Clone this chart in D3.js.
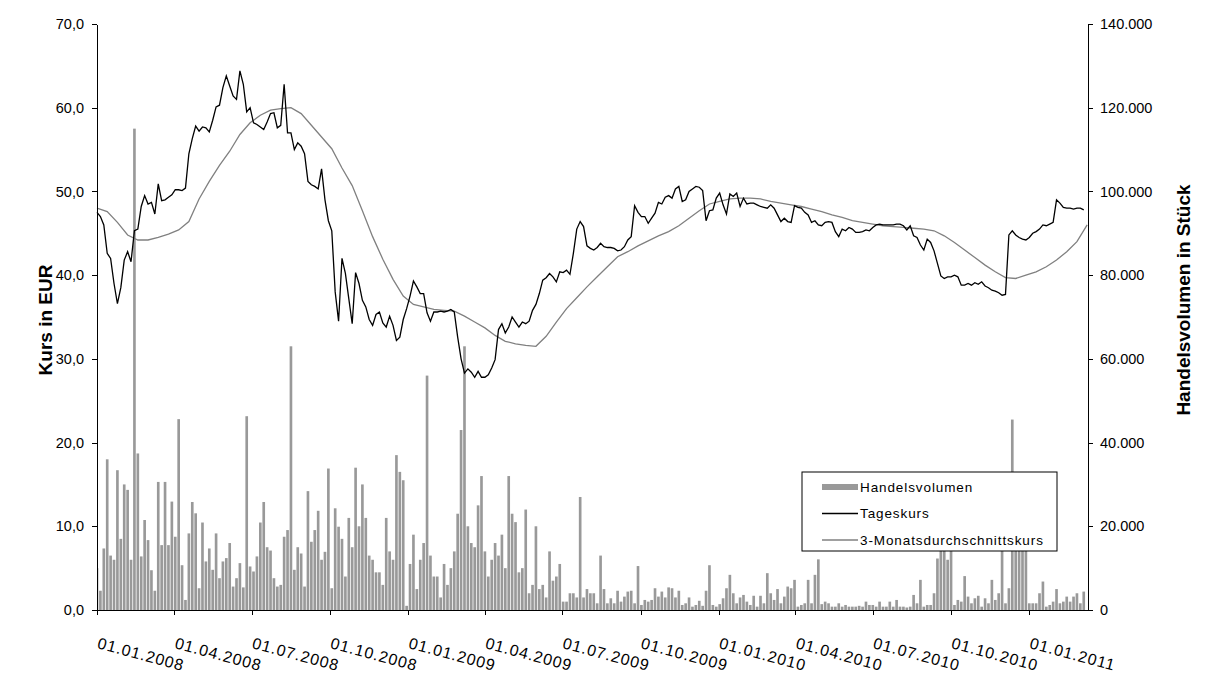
<!DOCTYPE html>
<html lang="de">
<head>
<meta charset="UTF-8">
<title>Tageskurs und Handelsvolumen</title>
<script src="https://cdn.jsdelivr.net/npm/d3@7/dist/d3.min.js"></script>
<style>
  body { margin: 0; background: #fff; font-family: "Liberation Sans", Arial, sans-serif; }
  .axis text { font-size: 14.5px; fill: #000; }
  .axis path, .axis line { stroke: #000; stroke-width: 1; shape-rendering: crispEdges; }
  .kurs { fill: none; stroke: #000; stroke-width: 1.3; }
  .schnitt { fill: none; stroke: #808080; stroke-width: 1.3; }
  .bar { fill: #999999; }
  .titel { font-size: 19px; font-weight: bold; }
  .legende text { font-size: 13.5px; letter-spacing: 0.9px; }
</style>
</head>
<body>
<div id="chart"></div>
<script>
// Datumsraster: ein Wert alle 4 Kalendertage ab 01.01.2008
var startDatum = "2008-01-01";
var endDatum = "2011-03-11";
var schrittTage = 4;
var schrittSchnittTage = 12;

// Tageskurs in EUR
var tageskurs = [
  47.5,47.0,46.0,42.6,42.0,39.0,36.6,38.5,41.8,42.8,
  41.6,45.3,45.5,48.2,49.5,48.5,48.7,47.3,50.9,48.9,
  49.0,49.3,49.6,50.2,50.2,50.1,50.4,54.5,56.3,57.8,
  57.2,57.7,57.6,57.1,58.5,60.1,60.3,62.4,63.8,62.6,
  61.4,61.0,64.4,62.8,59.5,60.0,58.2,58.0,57.7,57.4,
  58.3,59.3,59.4,57.6,57.9,62.8,57.0,57.0,55.0,55.8,
  55.4,54.5,51.2,50.8,50.6,50.3,52.7,49.0,46.5,45.3,
  38.0,34.5,42.0,40.2,37.2,34.2,40.3,39.0,37.0,36.2,
  34.7,34.0,35.3,35.6,34.3,33.8,35.1,34.0,32.2,32.6,
  34.7,36.0,37.5,39.3,38.6,37.8,37.8,35.5,34.5,35.6,
  35.6,35.7,35.6,35.7,35.9,35.6,32.6,30.0,28.3,28.8,
  28.4,27.8,28.5,27.8,27.8,28.1,28.9,29.9,33.5,34.2,
  33.1,33.8,35.0,34.4,33.8,34.4,34.2,34.5,35.8,36.5,
  37.8,39.4,39.7,40.2,39.8,39.2,40.4,40.3,40.6,40.1,
  42.6,45.5,46.4,45.8,43.5,43.2,43.0,43.3,43.8,43.4,
  43.3,43.3,43.2,42.9,43.0,43.4,44.2,44.6,48.3,47.5,
  47.0,47.0,46.2,46.8,47.4,48.7,48.5,49.3,49.5,49.2,
  50.3,50.6,48.8,49.0,50.0,50.3,50.6,50.5,50.1,46.5,
  47.7,47.8,49.2,49.8,48.4,47.3,49.7,49.4,49.8,48.2,
  49.2,48.5,48.6,48.6,48.4,48.2,48.1,48.0,48.4,48.0,
  47.2,46.4,46.8,46.4,46.3,48.3,48.1,48.0,47.5,47.2,
  46.3,46.5,46.0,45.9,46.3,46.4,46.3,45.2,44.6,45.5,
  45.3,45.7,45.5,45.1,45.1,45.2,45.4,45.3,45.7,46.0,
  46.1,46.0,46.0,46.0,46.0,46.1,46.1,45.9,45.4,45.9,
  44.7,44.5,43.6,43.0,44.3,43.9,42.9,41.4,39.9,39.6,
  39.8,39.8,40.0,39.8,38.8,38.8,39.0,38.8,39.1,38.9,
  39.2,38.7,38.5,38.2,38.1,37.9,37.6,37.7,44.8,45.3,
  44.8,44.5,44.3,44.2,44.5,45.0,45.2,45.5,46.0,45.9,
  46.1,46.3,49.0,48.6,48.1,48.0,48.0,47.9,48.0,48.0,
  47.8
];

// Handelsvolumen in Tsd. Stueck
var handelsvolumenTsd = [
  10,4.6,14.7,36,13,12,33.4,17,30,28.7,
  12,115,37.4,12.8,21.5,16.7,9.5,4.6,30.6,15.5,
  30.6,15.5,25.9,17.5,45.6,10.7,2.4,18.3,25.8,23.1,
  5.2,20.9,11.6,14.7,9.6,18.3,7.6,11.6,12.4,16,
  5.6,7.6,11.2,5.4,46.3,10.4,9.2,12.8,20.9,25.8,
  15,14.2,7.6,5.6,6,17.5,19.1,63,9.6,15,
  13.5,5.6,28.4,16.3,19.1,23.7,12,13.9,33.8,5.2,
  24.3,19.9,17,8,22,15,34,20,30,22,
  13,12,9,9,6,22,14,12,37,33,
  31,1,11,18,5,12,16,56,13,8,
  8,3,11,6,10,14,23,43,63,20,
  16,15,25,32,14,8,12,16,13,18,
  10,32,23,21,9,10,24,4,6,20,
  5,6,3,14,7,8,11,2,2,4,
  4,3,27,3,5,4,4,1.6,13,5,
  1.6,2.8,1.6,4.6,2,3.2,4.4,4.6,1.6,10.5,
  1.2,2.4,2,2.4,5.2,3.2,4.4,3,5.4,5.2,
  3,4.6,1.2,1.6,3,0.8,1.2,2.2,1,4.6,
  10.7,1.2,0.8,1.4,2.8,5.2,8.4,4,1.6,3,
  3.6,2,1.2,3.4,0.8,3.4,1.6,8.8,4,2.4,
  5,1.6,3.2,5.6,5.2,7.2,0.8,1.2,1.6,7.2,
  1.6,8.4,12.1,1.4,2,1.6,0.8,0.8,1.6,0.8,
  1.2,0.8,0.8,0.8,1,0.8,2,1.2,1.2,0.8,
  2,0.8,0.8,2,0.8,2.4,0.8,0.8,0.6,0.8,
  3.6,1.6,7.2,0.8,1.2,1.2,4,12.3,18,16,
  12,16,1.2,2.4,2,8.1,3.2,1.6,2.8,3.4,
  0.8,2.8,1.6,7.2,2.4,4,15,1.6,5.2,45.5,
  20,18,16,15,1.6,1.6,1.6,4,6.8,0.8,
  1.2,2,5,1.6,2,3.2,2,3.2,4,1.6,
  4.4
];

// 3-Monatsdurchschnittskurs in EUR (alle 12 Tage)
var durchschnittskurs = [
  48.0,47.6,46.3,44.8,44.2,44.2,44.5,44.9,45.4,46.4,
  49.1,51.2,53.1,54.8,56.8,58.2,59.1,59.7,59.9,60.0,
  59.3,57.9,56.5,55.1,52.8,50.7,47.7,44.6,41.9,39.5,
  37.5,36.5,36.2,35.9,35.8,35.7,35.1,34.4,33.7,32.8,
  32.1,31.8,31.6,31.5,32.7,34.4,36.0,37.3,38.6,39.8,
  41.0,42.2,42.8,43.5,44.1,44.7,45.2,45.9,46.8,47.7,
  48.5,48.8,49.1,49.2,49.2,49.1,48.8,48.6,48.4,48.2,
  47.9,47.6,47.2,46.9,46.5,46.3,46.1,45.9,45.8,45.7,
  45.6,45.5,45.3,44.7,43.9,43.0,42.1,41.2,40.4,39.7,
  39.6,40.0,40.4,41.0,41.8,42.8,44.0,46.0
];

var kursTicks = [0, 10, 20, 30, 40, 50, 60, 70];
var volumenTicks = [0, 20, 40, 60, 80, 100, 120, 140];
var datumTicks = ["2008-01-01", "2008-04-01", "2008-07-01", "2008-10-01",
                  "2009-01-01", "2009-04-01", "2009-07-01", "2009-10-01",
                  "2010-01-01", "2010-04-01", "2010-07-01", "2010-10-01",
                  "2011-01-01"];

var width = 1221, height = 677;
var plot = {left: 97, right: 1088, top: 24, bottom: 610};

var de = d3.formatLocale({decimal: ",", thousands: ".", grouping: [3], currency: ["", " €"]});
var fmtKurs = de.format(".1f");
var fmtVol = de.format(",d");
var fmtDatum = d3.utcFormat("%d.%m.%Y");
var parse = d3.utcParse("%Y-%m-%d");
var start = parse(startDatum);

var svg = d3.select("#chart").append("svg")
    .attr("width", width)
    .attr("height", height);

var x = d3.scaleUtc()
    .domain([start, parse(endDatum)])
    .range([plot.left, plot.right]);
var yKurs = d3.scaleLinear().domain([0, 70]).range([plot.bottom, plot.top]);
var yVol = d3.scaleLinear().domain([0, 140]).range([plot.bottom, plot.top]);

svg.append("clipPath").attr("id", "clip")
  .append("rect")
    .attr("x", plot.left + 0.5).attr("y", plot.top)
    .attr("width", plot.right - plot.left - 1).attr("height", plot.bottom - plot.top);

var kursDaten = tageskurs.map(function(v, i) {
  return {datum: d3.utcDay.offset(start, i * schrittTage), wert: v};
});
var volDaten = handelsvolumenTsd.map(function(v, i) {
  return {datum: d3.utcDay.offset(start, i * schrittTage), wert: v};
});
var schnittDaten = durchschnittskurs.map(function(v, i) {
  return {datum: d3.utcDay.offset(start, i * schrittSchnittTage), wert: v};
});

// Volumen-Balken
var schritt = x(d3.utcDay.offset(start, schrittTage)) - x(start);
var barW = schritt * 0.78;
svg.append("g").attr("clip-path", "url(#clip)")
  .selectAll("rect").data(volDaten).enter().append("rect")
    .attr("class", "bar")
    .attr("x", function(d) { return x(d.datum) - barW / 2; })
    .attr("y", function(d) { return yVol(d.wert); })
    .attr("width", barW)
    .attr("height", function(d) { return yVol(0) - yVol(d.wert); });

// Linien
var linie = d3.line()
    .x(function(d) { return x(d.datum); })
    .y(function(d) { return yKurs(d.wert); });

svg.append("path").datum(schnittDaten).attr("class", "schnitt").attr("d", linie);
svg.append("path").datum(kursDaten).attr("class", "kurs").attr("d", linie);

// Achsen
svg.append("g").attr("class", "axis")
    .attr("transform", "translate(" + plot.left + ",0)")
    .call(d3.axisLeft(yKurs).tickValues(kursTicks).tickSize(5).tickSizeOuter(0)
      .tickPadding(8).tickFormat(fmtKurs));

svg.append("g").attr("class", "axis")
    .attr("transform", "translate(" + plot.right + ",0)")
    .call(d3.axisRight(yVol).tickValues(volumenTicks).tickSize(5).tickSizeOuter(0)
      .tickPadding(7).tickFormat(function(v) { return fmtVol(v * 1000); }));

var xAchse = svg.append("g").attr("class", "axis")
    .attr("transform", "translate(0," + plot.bottom + ")")
    .call(d3.axisBottom(x).tickValues(datumTicks.map(parse)).tickSize(5).tickSizeOuter(0)
      .tickFormat(""));

xAchse.selectAll(".tick").append("text")
    .attr("text-anchor", "start")
    .attr("transform", "translate(-1,38) rotate(15)")
    .style("font-size", "16px")
    .style("letter-spacing", "0.9px")
    .text(function(d) { return fmtDatum(d); });

// Achsentitel
svg.append("text").attr("class", "titel")
    .attr("transform", "translate(52,320) rotate(-90)")
    .attr("text-anchor", "middle")
    .text("Kurs in EUR");

svg.append("text").attr("class", "titel")
    .attr("transform", "translate(1190,300) rotate(-90)")
    .attr("text-anchor", "middle")
    .text("Handelsvolumen in Stück");

// Legende
var leg = svg.append("g").attr("class", "legende").attr("transform", "translate(802,472)");
leg.append("rect").attr("width", 255).attr("height", 79)
    .attr("fill", "#fff").attr("stroke", "#000").attr("stroke-width", 1);

var eintraege = [
  {name: "Handelsvolumen", typ: "bar"},
  {name: "Tageskurs", typ: "kurs"},
  {name: "3-Monatsdurchschnittskurs", typ: "schnitt"}
];
var zeile = leg.selectAll(".eintrag").data(eintraege).enter().append("g")
    .attr("transform", function(d, i) { return "translate(0," + (15 + i * 26.5) + ")"; });
zeile.each(function(d) {
  var g = d3.select(this);
  if (d.typ === "bar") {
    g.append("rect").attr("class", "bar").attr("x", 20).attr("y", -3).attr("width", 36).attr("height", 6);
  } else {
    g.append("line").attr("class", d.typ).attr("x1", 20).attr("x2", 56).attr("y1", 0).attr("y2", 0);
  }
});
zeile.append("text").attr("x", 58).attr("dy", "0.35em").text(function(d) { return d.name; });
</script>
</body>
</html>
